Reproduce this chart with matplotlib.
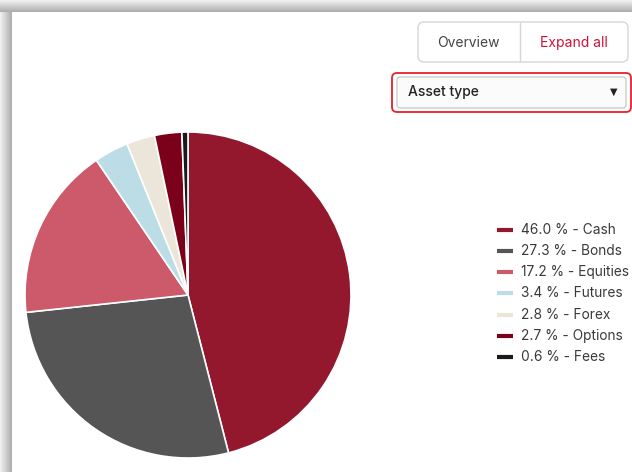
import matplotlib
matplotlib.use("Agg")
import matplotlib.pyplot as plt
import numpy as np
from matplotlib.patches import FancyBboxPatch

plt.rcParams["font.family"] = ["Inter", "DejaVu Sans"]

W, H = 632, 472

labels = ["Cash", "Bonds", "Equities", "Futures", "Forex", "Options", "Fees"]
shares = [46.0, 27.3, 17.2, 3.4, 2.8, 2.7, 0.6]
colors = ["#93182e", "#555555", "#cc5a6a", "#bcdde5", "#ece6da", "#7b0019", "#1a1a1a"]


def py(y):
    # screen pixel (top-down) -> data y
    return H - y


fig = plt.figure(figsize=(W / 100, H / 100), dpi=100)
ax = fig.add_axes([0, 0, 1, 1])

# pie
ax.pie(shares, colors=colors, startangle=90, counterclock=False,
       center=(188, py(295)), radius=163,
       wedgeprops=dict(edgecolor="white", linewidth=1.2))
ax.set_xlim(0, W)
ax.set_ylim(0, H)
ax.set_aspect("auto")
ax.axis("off")

# panel shadow along top and left edges
grad = np.linspace(0.94, 0.68, 12)
top = np.tile(grad[:, None], (1, W))
ax.imshow(top, cmap="gray", vmin=0, vmax=1, extent=(0, W, py(12), py(0)),
          origin="upper", aspect="auto", zorder=0)
left = np.tile(grad[None, :], (H - 12, 1))
ax.imshow(left, cmap="gray", vmin=0, vmax=1, extent=(0, 12, py(H), py(12)),
          origin="upper", aspect="auto", zorder=0)
ax.set_xlim(0, W)
ax.set_ylim(0, H)

# buttons
btn = FancyBboxPatch((418, py(62)), 210, 40, boxstyle="round,pad=0,rounding_size=6",
                     fc="white", ec="#d6d6d6", lw=1)
ax.add_patch(btn)
ax.plot([520, 520], [py(23), py(61)], color="#d6d6d6", lw=1)
ax.text(468.5, py(43), "Overview", ha="center", va="center", fontsize=10, color="#444444")
ax.text(574, py(43), "Expand all", ha="center", va="center", fontsize=10, color="#d0103a")

# dropdown
outer = FancyBboxPatch((392, py(112)), 239, 39, boxstyle="round,pad=0,rounding_size=5",
                       fc="white", ec="#e8202a", lw=1.3)
ax.add_patch(outer)
inner = FancyBboxPatch((397, py(108)), 229, 31, boxstyle="round,pad=0,rounding_size=3",
                       fc="#fbfbfb", ec="#c8c8c8", lw=0.9)
ax.add_patch(inner)
ax.text(408, py(92), "Asset type", ha="left", va="center", fontsize=10,
        fontweight="medium", color="#222222")
ax.text(614, py(92), "\u25bc", ha="center", va="center", fontsize=7,
        color="#222222", family=["DejaVu Sans"])

# legend
for i, (lab, val, col) in enumerate(zip(labels, shares, colors)):
    y = py(229.5 + i * 21.3)
    ax.plot([497, 513], [y, y], color=col, lw=3, solid_capstyle="butt")
    ax.text(521, y, f"{val:.1f} % - {lab}", ha="left", va="center",
            fontsize=9.9, color="#3a3a3a")

fig.savefig("out.png", dpi=100)
